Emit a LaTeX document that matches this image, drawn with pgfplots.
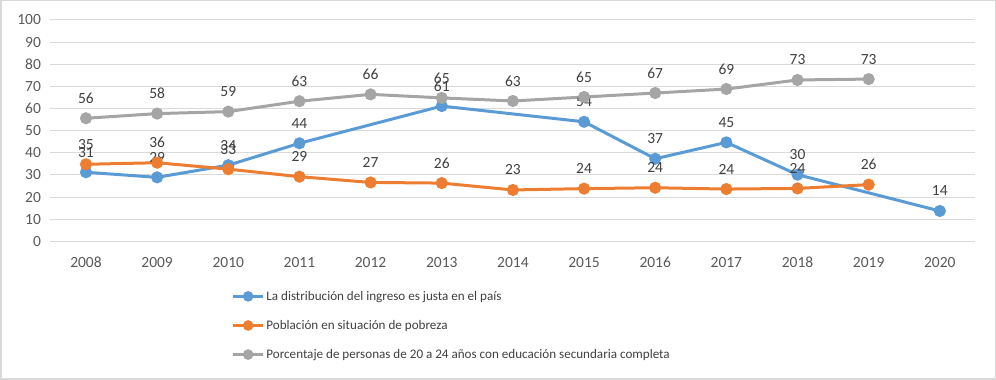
\documentclass[border=0pt]{standalone}
\usepackage{pgfplots}
\pgfplotsset{compat=1.18}
\usepackage{fontspec}
\setmainfont{Carlito}
\definecolor{cblue}{HTML}{5B9BD5}
\definecolor{corange}{HTML}{ED7D31}
\definecolor{cgray}{HTML}{A5A5A5}
\definecolor{cgrid}{HTML}{D9D9D9}
\definecolor{ctick}{HTML}{595959}
\definecolor{clabel}{HTML}{404040}
\begin{document}
\begin{tikzpicture}[x=1pt,y=1pt]
\draw[cgrid, line width=1.5pt] (0.75,0.75) rectangle (995.25,379.25);
\begin{axis}[
  at={(50.4pt,138.7pt)}, anchor=south west,
  scale only axis, width=925pt, height=221.3pt,
  xmin=-0.5, xmax=12.5, ymin=0, ymax=100,
  xtick={0,...,12},
  xticklabels={2008,2009,2010,2011,2012,2013,2014,2015,2016,2017,2018,2019,2020},
  ytick={0,10,...,100},
  ymajorgrids, grid style={cgrid, line width=1pt},
  axis line style={draw=none},
  major tick length=0pt,
  /pgf/number format/assume math mode=true,
  tick label style={font=\fontsize{15.5}{18}\selectfont, text=ctick},
  yticklabel style={anchor=east, xshift=-6pt},
  xticklabel style={anchor=center, yshift=-21pt},
  nodes near coords={\pgfmathprintnumber[fixed,precision=0,assume math mode=true]{\pgfplotspointmeta}},
  every node near coord/.append style={anchor=center, yshift=20pt, font=\fontsize{15.5}{18}\selectfont, text=clabel},
  legend style={at={(0.196,-0.215)}, anchor=north west, draw=none, fill=none,
    font=\fontsize{13.1}{16}\selectfont, text=clabel, row sep=14.5pt, inner sep=0pt},
  legend cell align=left,
  legend image code/.code={\draw[#1, line width=2.5pt, mark size=4pt, mark repeat=2, mark phase=2] plot coordinates {(0pt,0pt) (15pt,0pt) (30pt,0pt)};},
  every axis plot/.append style={line width=3pt, mark=*, mark size=4.5pt},
]
\addplot[cblue, mark options={fill=cblue, draw=cblue}] coordinates {
 (0,31.2) (1,28.9) (2,34.4) (3,44.3) (5,61.1) (7,54.0) (8,37.3) (9,44.7) (10,30.1) (12,13.7)};
\addlegendentry{La distribución del ingreso es justa en el país}
\addplot[corange, mark options={fill=corange, draw=corange}] coordinates {
 (0,34.8) (1,35.5) (2,32.6) (3,29.2) (4,26.6) (5,26.3) (6,23.2) (7,23.8) (8,24.2) (9,23.6) (10,23.9) (11,25.6)};
\addlegendentry{Población en situación de pobreza}
\addplot[cgray, mark options={fill=cgray, draw=cgray}] coordinates {
 (0,55.6) (1,57.7) (2,58.6) (3,63.3) (4,66.4) (5,64.8) (6,63.4) (7,65.2) (8,67.0) (9,68.8) (10,72.9) (11,73.3)};
\addlegendentry{Porcentaje de personas de 20 a 24 años con educación secundaria completa}
\end{axis}
\end{tikzpicture}
\end{document}
